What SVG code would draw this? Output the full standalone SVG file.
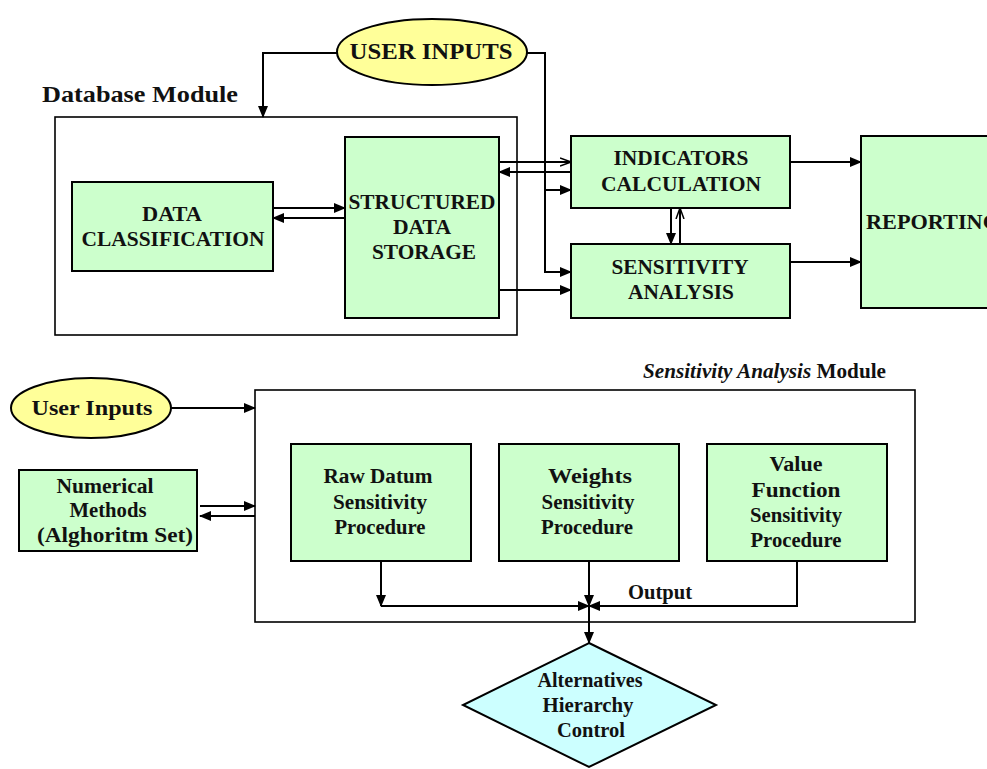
<svg xmlns="http://www.w3.org/2000/svg" width="987" height="769" viewBox="0 0 987 769">
<style>
.box{fill:#CCFFCC;stroke:#000;stroke-width:2}
.frame{fill:none;stroke:#000;stroke-width:1.6}
.yel{fill:#FFFF99;stroke:#000;stroke-width:2}
.cy{fill:#CCFFFF;stroke:#000;stroke-width:2}
.t{font-family:"Liberation Serif","Times New Roman",serif;font-weight:bold;font-size:20px;fill:#111;text-anchor:middle}
.c line,.c polyline{fill:none;stroke:#000;stroke-width:2}
.a{marker-end:url(#ah)}
.o{marker-end:url(#oh)}
</style>
<defs>
<marker id="ah" markerWidth="12" markerHeight="10" refX="11" refY="5" orient="auto" markerUnits="userSpaceOnUse">
<path d="M0,0 L12,5 L0,10 z" fill="#000"/>
</marker>
<marker id="oh" markerWidth="12" markerHeight="10" refX="11" refY="5" orient="auto" markerUnits="userSpaceOnUse">
<path d="M0,1 L11,5 L0,9" fill="none" stroke="#000" stroke-width="1.5"/>
</marker>
</defs>
<rect width="987" height="769" fill="#fff"/>

<g id="database-module">
<rect class="frame" x="55" y="117" width="462" height="218"/>
<text x="42" y="102" textLength="196" lengthAdjust="spacingAndGlyphs" style="font-family:'Liberation Serif','Times New Roman',serif;font-weight:bold;font-size:24px;fill:#111">Database Module</text>
</g>
<g id="user-inputs-top">
<ellipse class="yel" cx="432" cy="52" rx="95" ry="33"/>
<text class="t" x="431" y="59" textLength="163" lengthAdjust="spacingAndGlyphs" style="font-size:24px">USER INPUTS</text>
</g>
<g id="data-classification">
<rect class="box" x="72" y="182" width="201" height="89"/>
<text class="t" x="172" y="221" textLength="60" lengthAdjust="spacingAndGlyphs">DATA</text>
<text class="t" x="173" y="246" textLength="183" lengthAdjust="spacingAndGlyphs">CLASSIFICATION</text>
</g>
<g id="structured-data-storage">
<rect class="box" x="345" y="137" width="154" height="181"/>
<text class="t" x="422" y="209" textLength="147" lengthAdjust="spacingAndGlyphs">STRUCTURED</text>
<text class="t" x="422" y="234" textLength="58" lengthAdjust="spacingAndGlyphs">DATA</text>
<text class="t" x="424" y="259" textLength="104" lengthAdjust="spacingAndGlyphs">STORAGE</text>
</g>
<g id="indicators-calculation">
<rect class="box" x="571" y="136" width="219" height="72"/>
<text class="t" x="681" y="165" textLength="135" lengthAdjust="spacingAndGlyphs">INDICATORS</text>
<text class="t" x="681" y="191" textLength="160" lengthAdjust="spacingAndGlyphs">CALCULATION</text>
</g>
<g id="sensitivity-analysis">
<rect class="box" x="571" y="244" width="219" height="74"/>
<text class="t" x="680" y="274" textLength="137" lengthAdjust="spacingAndGlyphs">SENSITIVITY</text>
<text class="t" x="681" y="299" textLength="106" lengthAdjust="spacingAndGlyphs">ANALYSIS</text>
</g>
<g id="reporting">
<rect class="box" x="861" y="136" width="140" height="172"/>
<text class="t" x="866" y="229" textLength="134" lengthAdjust="spacingAndGlyphs" style="text-anchor:start">REPORTING</text>
</g>

<g id="sa-module">
<rect class="frame" x="255" y="390" width="660" height="232"/>
<text x="886" y="378" textLength="243" lengthAdjust="spacingAndGlyphs" style="font-family:'Liberation Serif','Times New Roman',serif;font-weight:bold;font-size:20px;fill:#111;text-anchor:end"><tspan font-style="italic">Sensitivity Analysis</tspan> Module</text>
</g>
<g id="user-inputs-bottom">
<ellipse class="yel" cx="91" cy="408" rx="80" ry="30"/>
<text class="t" x="92" y="415" textLength="121" lengthAdjust="spacingAndGlyphs" style="font-size:21px">User Inputs</text>
</g>
<g id="numerical-methods">
<rect class="box" x="19" y="470" width="178" height="81"/>
<text class="t" x="105" y="493" textLength="97" lengthAdjust="spacingAndGlyphs">Numerical</text>
<text class="t" x="108" y="517" textLength="77" lengthAdjust="spacingAndGlyphs">Methods</text>
<text class="t" x="115" y="542" textLength="156" lengthAdjust="spacingAndGlyphs">(Alghoritm Set)</text>
</g>
<g id="raw-datum">
<rect class="box" x="291" y="444" width="180" height="117"/>
<text class="t" x="378" y="483" textLength="109" lengthAdjust="spacingAndGlyphs">Raw Datum</text>
<text class="t" x="380" y="509" textLength="94" lengthAdjust="spacingAndGlyphs">Sensitivity</text>
<text class="t" x="380" y="534" textLength="91" lengthAdjust="spacingAndGlyphs">Procedure</text>
</g>
<g id="weights">
<rect class="box" x="499" y="444" width="180" height="117"/>
<text class="t" x="590" y="483" textLength="84" lengthAdjust="spacingAndGlyphs">Weights</text>
<text class="t" x="588" y="509" textLength="93" lengthAdjust="spacingAndGlyphs">Sensitivity</text>
<text class="t" x="587" y="534" textLength="92" lengthAdjust="spacingAndGlyphs">Procedure</text>
</g>
<g id="value-function">
<rect class="box" x="707" y="444" width="180" height="117"/>
<text class="t" x="796" y="471" textLength="53" lengthAdjust="spacingAndGlyphs">Value</text>
<text class="t" x="796" y="497" textLength="89" lengthAdjust="spacingAndGlyphs">Function</text>
<text class="t" x="796" y="522" textLength="92" lengthAdjust="spacingAndGlyphs">Sensitivity</text>
<text class="t" x="796" y="547" textLength="91" lengthAdjust="spacingAndGlyphs">Procedure</text>
</g>
<g id="alternatives">
<polygon class="cy" points="589,643 716,705 589,767 463,705"/>
<text class="t" x="590" y="687" textLength="105" lengthAdjust="spacingAndGlyphs">Alternatives</text>
<text class="t" x="588" y="712" textLength="91" lengthAdjust="spacingAndGlyphs">Hierarchy</text>
<text class="t" x="591" y="737" textLength="68" lengthAdjust="spacingAndGlyphs">Control</text>
</g>
<text class="t" x="660" y="599" textLength="64" lengthAdjust="spacingAndGlyphs">Output</text>

<g id="connectors" class="c">
<polyline class="a" points="337,53 263,53 263,117"/>
<polyline class="a" points="527,53 545,53 545,272 571,272"/>
<line class="a" x1="545" y1="190" x2="571" y2="190"/>
<line class="o" x1="499" y1="162" x2="571" y2="162"/>
<line class="a" x1="571" y1="172" x2="499" y2="172"/>
<line class="a" x1="499" y1="290" x2="571" y2="290"/>
<line class="a" x1="273" y1="208" x2="345" y2="208"/>
<line class="a" x1="345" y1="218" x2="273" y2="218"/>
<line class="a" x1="671" y1="208" x2="671" y2="244"/>
<line class="o" x1="680" y1="244" x2="680" y2="208"/>
<line class="a" x1="790" y1="162" x2="861" y2="162"/>
<line class="a" x1="790" y1="262" x2="861" y2="262"/>
<line class="a" x1="171" y1="408" x2="255" y2="408"/>
<line class="a" x1="200" y1="506" x2="255" y2="506"/>
<line class="a" x1="255" y1="516" x2="200" y2="516"/>
<line class="a" x1="381" y1="561" x2="381" y2="606"/>
<line class="a" x1="381" y1="606" x2="589" y2="606"/>
<line class="a" x1="589" y1="561" x2="589" y2="606"/>
<polyline class="a" points="797,561 797,606 589,606"/>
<line class="a" x1="589" y1="606" x2="589" y2="643"/>
</g>
</svg>
